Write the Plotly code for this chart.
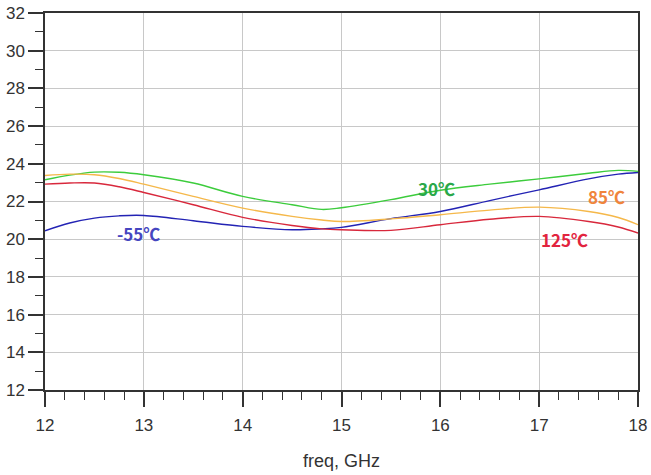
import plotly.graph_objects as go

freq = [12, 12.25, 12.5, 12.75, 13, 13.5, 14, 14.5, 14.8, 15, 15.5, 16, 16.5, 17, 17.5, 17.8, 18]
gain_m55 = [20.45, 20.86, 21.12, 21.24, 21.26, 20.98, 20.68, 20.50, 20.55, 20.63, 21.09, 21.47, 22.05, 22.62, 23.20, 23.45, 23.54]
gain_30 = [23.15, 23.40, 23.56, 23.55, 23.42, 22.98, 22.27, 21.83, 21.58, 21.67, 22.10, 22.60, 22.92, 23.20, 23.50, 23.65, 23.60]
gain_85 = [23.38, 23.45, 23.42, 23.22, 22.92, 22.27, 21.65, 21.21, 21.02, 20.94, 21.08, 21.30, 21.54, 21.70, 21.47, 21.15, 20.77]
gain_125 = [22.92, 22.98, 22.98, 22.78, 22.48, 21.83, 21.16, 20.73, 20.55, 20.50, 20.47, 20.77, 21.06, 21.21, 20.94, 20.65, 20.33]

series = [
    ("-55℃", gain_m55, "#2323b4"),
    ("30℃", gain_30, "#3ccc3c"),
    ("85℃", gain_85, "#f5b84a"),
    ("125℃", gain_125, "#d8283c"),
]

label_text = ["-55℃", "30℃", "85℃", "125℃"]
label_x = [12.95, 15.96, 17.68, 17.26]
label_y = [20.29, 22.7, 22.25, 19.97]
label_col = ["#4646c0", "#2aa84a", "#f0843c", "#e2243e"]

fig = go.Figure()
for name, ys, col in series:
    fig.add_trace(go.Scatter(x=freq, y=ys, mode="lines", name=name,
                             line=dict(color=col, width=1.4, shape="spline", smoothing=1.0)))

for t, x, y, c in zip(label_text, label_x, label_y, label_col):
    fig.add_annotation(x=x, y=y, text="<b>" + t + "</b>", showarrow=False,
                       font=dict(family="Noto Sans CJK SC", size=17, color=c))

axis_common = dict(
    showline=True, linecolor="#333333", linewidth=1.5, mirror=True,
    showgrid=True, gridcolor="#c8c8c8", gridwidth=1,
    ticks="outside", tickcolor="#333333", tickwidth=1.5,
    tickfont=dict(family="Liberation Sans, Arial", size=17, color="#333333"),
    zeroline=False, automargin=False,
)

fig.update_xaxes(range=[12, 18], dtick=1, tick0=12, ticklen=15, ticklabelstandoff=4,
                 minor=dict(dtick=0.2, ticklen=8, tickcolor="#333333", tickwidth=1.2, showgrid=False),
                 title=dict(text="freq, GHz", font=dict(family="Liberation Sans, Arial", size=18, color="#333333"), standoff=20),
                 **axis_common)
fig.update_yaxes(range=[12, 32], dtick=2, tick0=12, ticklen=15,
                 minor=dict(dtick=1, ticklen=8, tickcolor="#333333", tickwidth=1.2, showgrid=False),
                 **axis_common)

fig.update_layout(
    width=651, height=475,
    margin=dict(l=45, r=13, t=13, b=85),
    plot_bgcolor="white", paper_bgcolor="white",
    showlegend=False,
)

fig.write_html("out.html")
